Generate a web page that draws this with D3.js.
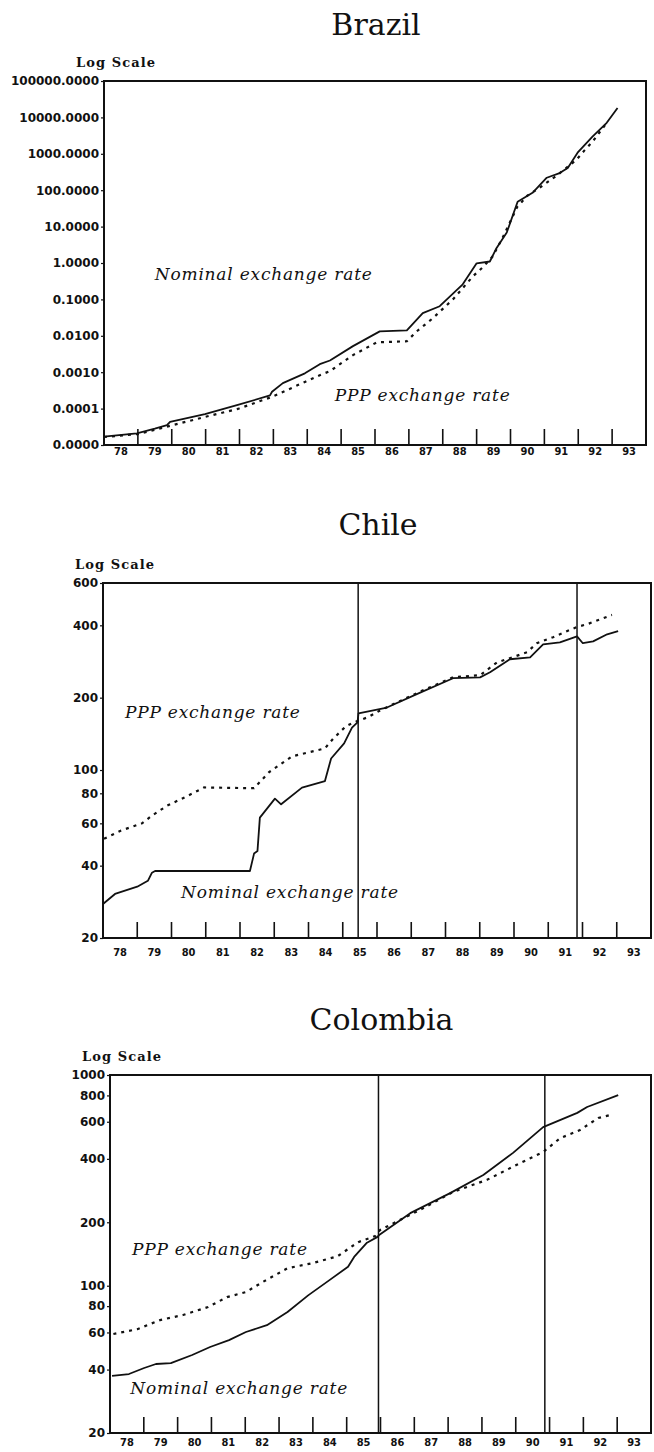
<!DOCTYPE html>
<html>
<head>
<meta charset="utf-8">
<script src="https://cdn.jsdelivr.net/npm/d3@7/dist/d3.min.js"></script>
<style>
  body { margin: 0; background: #fff; }
  svg { display: block; }
</style>
</head>
<body>
<svg id="chart"></svg>
<script>
// year labels under each panel, one per year between the ticks
var yearLabels = ["78", "79", "80", "81", "82", "83", "84", "85", "86", "87", "88", "89", "90", "91", "92", "93"];

// y ticks
var brazilTicks = [1e-5, 1e-4, 1e-3, 1e-2, 1e-1, 1, 10, 100, 1000, 10000, 100000];
var chileTicks = [20, 40, 60, 80, 100, 200, 400, 600];
var colombiaTicks = [20, 40, 60, 80, 100, 200, 400, 600, 800, 1000];

// [year, rate]
var brazilNominal = [
  [1978.0, 1.7e-5], [1978.97, 2.1e-5], [1979.5, 2.8e-5], [1979.86, 3.5e-5], [1979.95, 4.3e-5],
  [1980.98, 7.1e-5], [1981.95, 1.26e-4], [1982.9, 2.3e-4], [1982.96, 2.9e-4], [1983.28, 5.0e-4],
  [1983.93, 9.3e-4], [1984.37, 1.66e-3], [1984.67, 2.1e-3], [1985.35, 5.2e-3], [1986.14, 1.32e-2],
  [1986.94, 1.41e-2], [1987.41, 4.2e-2], [1987.91, 6.5e-2], [1988.59, 0.26], [1989.0, 0.98],
  [1989.39, 1.1], [1989.59, 2.6], [1989.89, 6.9], [1990.21, 48], [1990.65, 85],
  [1991.07, 220], [1991.45, 295], [1991.69, 410], [1991.98, 1070], [1992.42, 2950],
  [1992.84, 7100], [1993.16, 18200]
];
var brazilPPP = [
  [1978.0, 1.66e-5], [1979.0, 2.0e-5], [1979.86, 3.2e-5], [1980.98, 5.9e-5], [1981.95, 9.8e-5],
  [1982.96, 2.1e-4], [1983.93, 5.4e-4], [1984.37, 8.3e-4], [1984.67, 1.07e-3], [1985.35, 2.95e-3],
  [1986.05, 6.6e-3], [1986.94, 7.1e-3], [1987.23, 1.32e-2], [1987.7, 3.0e-2], [1988.3, 0.1],
  [1988.89, 0.43], [1989.18, 0.76], [1989.47, 1.5], [1989.77, 5.0], [1990.2, 35],
  [1990.5, 71], [1990.86, 117], [1991.39, 263], [1991.95, 690], [1992.19, 1260],
  [1992.42, 2140], [1992.84, 7100]
];

var chileNominal = [
  [1978.0, 27.7], [1978.35, 30.5], [1979.0, 32.7], [1979.31, 34.6], [1979.43, 37.4],
  [1979.52, 38], [1982.29, 38], [1982.41, 44.9], [1982.51, 46], [1982.58, 63.4],
  [1983.02, 76], [1983.2, 72], [1983.81, 84.5], [1984.48, 90], [1984.66, 111.7],
  [1985.04, 129], [1985.27, 150], [1985.43, 158], [1985.46, 172], [1986.29, 182],
  [1987.26, 210], [1988.22, 241], [1989.01, 243], [1989.3, 255], [1989.88, 289],
  [1990.47, 294], [1990.85, 333], [1991.34, 340], [1991.84, 360], [1992.01, 337],
  [1992.31, 343], [1992.72, 367], [1993.04, 378]
];
var chilePPP = [
  [1978.03, 51.8], [1978.53, 56], [1979.14, 60], [1979.43, 64.6], [1979.87, 71],
  [1980.47, 78], [1980.95, 84.6], [1982.41, 84], [1982.85, 98], [1983.52, 114],
  [1984.48, 123], [1984.72, 135], [1985.09, 152], [1985.33, 158], [1985.74, 166],
  [1986.09, 177], [1987.26, 212], [1988.22, 243], [1989.01, 248], [1989.5, 280],
  [1990.38, 309], [1990.67, 337], [1991.14, 357], [1991.84, 394], [1992.13, 404],
  [1992.86, 442]
];

var colombiaNominal = [
  [1978.06, 37.3], [1978.56, 38.1], [1979.01, 40.7], [1979.36, 42.5], [1979.8, 42.9],
  [1980.43, 46.9], [1980.96, 51.2], [1981.52, 55.2], [1982.02, 60.3], [1982.64, 65],
  [1983.25, 75], [1983.86, 90], [1984.48, 106], [1985.04, 123], [1985.22, 137],
  [1985.6, 160], [1985.9, 170], [1985.96, 174], [1986.88, 221], [1988.06, 275],
  [1989.04, 335], [1989.92, 427], [1990.81, 566], [1991.82, 661], [1992.11, 705],
  [1993.03, 803]
];
var colombiaPPP = [
  [1978.1, 59], [1978.81, 62.2], [1979.48, 68.7], [1980.16, 72.6], [1980.9, 79.2],
  [1981.46, 88.3], [1982.02, 93.3], [1982.51, 104], [1983.25, 121], [1983.99, 128],
  [1984.73, 138], [1985.34, 161], [1985.84, 172], [1985.99, 184], [1987.17, 229],
  [1988.15, 279], [1989.15, 318], [1990.13, 382], [1990.81, 431], [1991.31, 501],
  [1991.9, 548], [1992.44, 625], [1992.8, 646]
];

// year of the vertical marker lines
var chileBreaks = [1985.45, 1991.84];
var colombiaBreaks = [1985.94, 1990.86];

var W = 654, H = 1452;
var ink = "#111";

var panels = [
  {
    title: "Brazil", titleY: 35,
    left: 104, right: 646, top: 81, bottom: 445, labelGap: 10,
    domain: [1e-5, 1e5], ticks: brazilTicks, fmt: d3.format(".4f"),
    nominal: brazilNominal, ppp: brazilPPP, breaks: [],
    nomAt: [1979.5, 0.35], pppAt: [1984.81, 1.6e-4]
  },
  {
    title: "Chile", titleY: 535,
    left: 103, right: 651, top: 583, bottom: 938, labelGap: 18,
    domain: [20, 600], ticks: chileTicks, fmt: d3.format("d"),
    nominal: chileNominal, ppp: chilePPP, breaks: chileBreaks,
    nomAt: [1980.28, 29.4], pppAt: [1978.64, 164]
  },
  {
    title: "Colombia", titleY: 1030,
    left: 110, right: 651, top: 1075, bottom: 1433, labelGap: 13,
    domain: [20, 1000], ticks: colombiaTicks, fmt: d3.format("d"),
    nominal: colombiaNominal, ppp: colombiaPPP, breaks: colombiaBreaks,
    nomAt: [1978.6, 30.6], pppAt: [1978.65, 140]
  }
];

var svg = d3.select("#chart").attr("width", W).attr("height", H);
svg.append("rect").attr("width", W).attr("height", H).attr("fill", "#fff");

panels.forEach(function (p) {
  var x = d3.scaleLinear().domain([1978, 1994]).range([p.left, p.right]);
  var y = d3.scaleLog().domain(p.domain).range([p.bottom, p.top]);
  var g = svg.append("g");

  g.append("text")
    .attr("x", (p.left + p.right) / 2 + 1)
    .attr("y", p.titleY)
    .attr("text-anchor", "middle")
    .style("font-family", "'DejaVu Serif', serif")
    .style("font-size", "30px")
    .attr("fill", ink)
    .text(p.title);

  g.append("text")
    .attr("x", p.left - 28)
    .attr("y", p.top - 14)
    .attr("textLength", 79)
    .attr("lengthAdjust", "spacing")
    .style("font-family", "'DejaVu Serif', serif")
    .style("font-weight", "bold")
    .style("font-size", "13px")
    .attr("fill", ink)
    .text("Log Scale");

  // y axis labels + small outer ticks
  var yAxis = d3.axisLeft(y).tickValues(p.ticks).tickFormat(p.fmt).tickSize(3).tickPadding(2);
  var ya = g.append("g").attr("transform", "translate(" + p.left + ",0)").call(yAxis);
  ya.select(".domain").remove();
  ya.selectAll("line").attr("stroke", ink).attr("stroke-width", 1.2);
  ya.selectAll("text")
    .attr("fill", ink)
    .style("font-family", "'DejaVu Sans', sans-serif")
    .style("font-weight", "bold")
    .style("font-size", "12px");

  // year ticks rise from the bottom axis
  var xTicks = d3.range(1979, 1994);
  g.selectAll("line.yr").data(xTicks).join("line")
    .attr("class", "yr")
    .attr("x1", function (d) { return x(d); })
    .attr("x2", function (d) { return x(d); })
    .attr("y1", p.bottom)
    .attr("y2", p.bottom - 16)
    .attr("stroke", ink)
    .attr("stroke-width", 1.6);

  g.selectAll("text.yr").data(yearLabels).join("text")
    .attr("class", "yr")
    .attr("x", function (d, i) { return x(1978 + i + 0.5); })
    .attr("y", p.bottom + p.labelGap)
    .attr("text-anchor", "middle")
    .attr("fill", ink)
    .style("font-family", "'DejaVu Sans Condensed', 'DejaVu Sans', sans-serif")
    .style("font-weight", "bold")
    .style("font-size", "11px")
    .text(function (d) { return d; });

  // marker lines
  g.selectAll("line.brk").data(p.breaks).join("line")
    .attr("class", "brk")
    .attr("x1", function (d) { return x(d); })
    .attr("x2", function (d) { return x(d); })
    .attr("y1", p.top)
    .attr("y2", p.bottom)
    .attr("stroke", ink)
    .attr("stroke-width", 1.5);

  var line = d3.line()
    .x(function (d) { return x(d[0]); })
    .y(function (d) { return y(d[1]); });

  g.append("path")
    .datum(p.ppp)
    .attr("d", line)
    .attr("fill", "none")
    .attr("stroke", ink)
    .attr("stroke-width", 2.2)
    .attr("stroke-dasharray", "3,5");

  g.append("path")
    .datum(p.nominal)
    .attr("d", line)
    .attr("fill", "none")
    .attr("stroke", ink)
    .attr("stroke-width", 1.8)
    .attr("stroke-linejoin", "round");

  // frame
  g.append("rect")
    .attr("x", p.left)
    .attr("y", p.top)
    .attr("width", p.right - p.left)
    .attr("height", p.bottom - p.top)
    .attr("fill", "none")
    .attr("stroke", ink)
    .attr("stroke-width", 2);

  function note(txt, at, len) {
    g.append("text")
      .attr("x", x(at[0]))
      .attr("y", y(at[1]))
      .attr("textLength", len)
      .attr("lengthAdjust", "spacing")
      .attr("fill", ink)
      .style("font-family", "'DejaVu Serif', serif")
      .style("font-style", "italic")
      .style("font-size", "17px")
      .text(txt);
  }
  note("Nominal exchange rate", p.nomAt, 217);
  note("PPP exchange rate", p.pppAt, 175);
});
</script>
</body>
</html>
